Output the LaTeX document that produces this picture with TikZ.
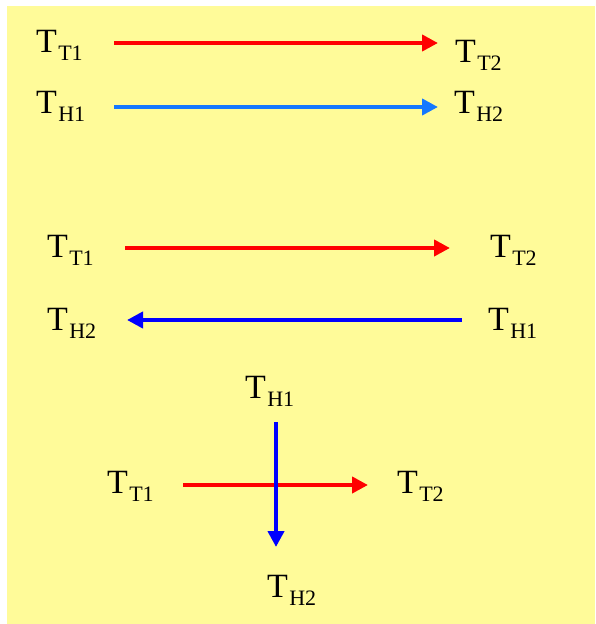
\documentclass[tikz,border=0pt]{standalone}
\usepackage{fontspec}
\setmainfont{Liberation Serif}
\usetikzlibrary{arrows.meta}
\definecolor{bgyellow}{RGB}{255,251,153}
\definecolor{lightblue}{RGB}{20,120,255}
\definecolor{deepblue}{RGB}{0,0,255}
\newcommand{\tlab}[1]{{\fontsize{34}{36}\selectfont T}\kern1.5pt\raisebox{-8pt}{\fontsize{22}{24}\selectfont #1}}
\tikzset{
  lab/.style={anchor=base west, inner sep=0pt, outer sep=0pt},
  flow/.style={line width=4.5pt, -{Triangle[length=16pt,width=16pt]}},
  hot/.style={flow, draw=red},
  coldA/.style={flow, draw=lightblue},
  coldB/.style={flow, draw=deepblue},
}
\begin{document}
\begin{tikzpicture}[x=1pt,y=-1pt]
\useasboundingbox (0,0) rectangle (595,624);
\fill[white] (0,0) rectangle (595,624);
\fill[bgyellow] (7,6) rectangle (595,624);
% section 1
\node[lab] (tt1a) at (36,52) {\tlab{T1}};
\node[lab] (th1a) at (36,113) {\tlab{H1}};
\node[lab] (tt2a) at (455,62) {\tlab{T2}};
\node[lab] (th2a) at (454,113) {\tlab{H2}};
\coordinate (r1s) at (114,43);
\coordinate (r1e) at (438,43);
\coordinate (b1s) at (114,107);
\coordinate (b1e) at (438,107);
\draw[hot] (r1s) -- (r1e);
\draw[coldA] (b1s) -- (b1e);
% section 2
\node[lab] (tt1b) at (47,257) {\tlab{T1}};
\node[lab] (tt2b) at (490,257) {\tlab{T2}};
\node[lab] (th2b) at (47,330) {\tlab{H2}};
\node[lab] (th1b) at (488,330) {\tlab{H1}};
\coordinate (r2s) at (125,248);
\coordinate (r2e) at (450,248);
\coordinate (b2s) at (462,320);
\coordinate (b2e) at (127,320);
\draw[hot] (r2s) -- (r2e);
\draw[coldB] (b2s) -- (b2e);
% section 3
\node[lab] (th1c) at (245,398) {\tlab{H1}};
\node[lab] (tt1c) at (107,493) {\tlab{T1}};
\node[lab] (tt2c) at (397,493) {\tlab{T2}};
\node[lab] (th2c) at (267,597) {\tlab{H2}};
\coordinate (r3s) at (183,485);
\coordinate (r3e) at (368,485);
\coordinate (b3s) at (276,422);
\coordinate (b3e) at (276,547);
\draw[hot] (r3s) -- (r3e);
\draw[coldB] (b3s) -- (b3e);
\end{tikzpicture}
\end{document}
